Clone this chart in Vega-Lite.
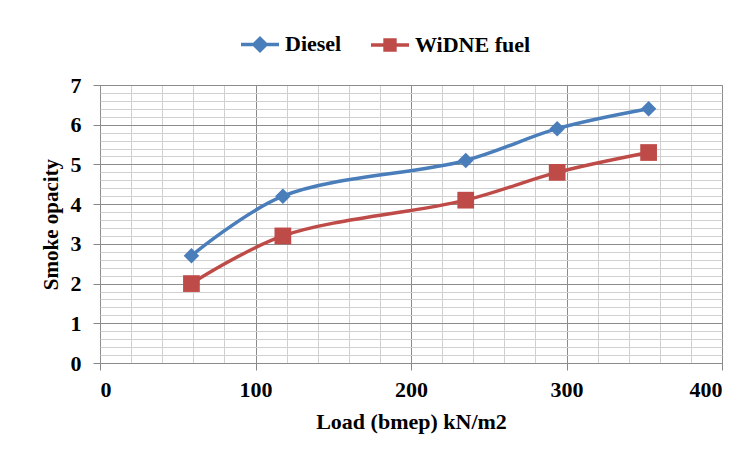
{
  "$schema": "https://vega.github.io/schema/vega-lite/v6.json",
  "width": 622,
  "height": 278,
  "autosize": {"type": "none"},
  "padding": {"left": 100, "top": 85, "right": 28, "bottom": 92},
  "background": "white",
  "config": {
    "view": {"stroke": "#868686", "strokeWidth": 1},
    "font": "Liberation Serif"
  },
  "data": {
    "values": [
      {"load": 58.8, "opacity": 2.7, "fuel": "Diesel"},
      {"load": 117.6, "opacity": 4.2, "fuel": "Diesel"},
      {"load": 235.2, "opacity": 5.1, "fuel": "Diesel"},
      {"load": 294, "opacity": 5.9, "fuel": "Diesel"},
      {"load": 352.8, "opacity": 6.4, "fuel": "Diesel"},
      {"load": 58.8, "opacity": 2.0, "fuel": "WiDNE fuel"},
      {"load": 117.6, "opacity": 3.2, "fuel": "WiDNE fuel"},
      {"load": 235.2, "opacity": 4.1, "fuel": "WiDNE fuel"},
      {"load": 294, "opacity": 4.8, "fuel": "WiDNE fuel"},
      {"load": 352.8, "opacity": 5.3, "fuel": "WiDNE fuel"}
    ]
  },
  "encoding": {
    "x": {
      "field": "load", "type": "quantitative",
      "scale": {"domain": [0, 400], "nice": false},
      "axis": {
        "title": "Load (bmep) kN/m2",
        "values": [0,20,40,60,80,100,120,140,160,180,200,220,240,260,280,300,320,340,360,380,400],
        "labelExpr": "datum.value % 100 === 0 ? datum.label : ''",
        "grid": true,
        "gridColor": {"condition": {"test": "datum.value % 100 === 0", "value": "#8c8c8c"}, "value": "#d0d0d0"},
        "gridWidth": 1,
        "domain": false,
        "tickColor": "#868686",
        "tickSize": 7,
        "tickOpacity": {"condition": {"test": "datum.value % 100 === 0", "value": 1}, "value": 0},
        "labelFont": "Liberation Serif", "labelFontWeight": "bold", "labelFontSize": 22, "labelColor": "black",
        "labelPadding": 9,
        "titleFont": "Liberation Serif", "titleFontWeight": "bold", "titleFontSize": 22, "titleColor": "black",
        "titlePadding": 11
      }
    },
    "y": {
      "field": "opacity", "type": "quantitative",
      "scale": {"domain": [0, 7], "nice": false},
      "axis": {
        "title": "Smoke opacity",
        "values": [0,0.2,0.4,0.6,0.8,1,1.2,1.4,1.6,1.8,2,2.2,2.4,2.6,2.8,3,3.2,3.4,3.6,3.8,4,4.2,4.4,4.6,4.8,5,5.2,5.4,5.6,5.8,6,6.2,6.4,6.6,6.8,7],
        "labelExpr": "abs(datum.value - round(datum.value)) < 0.01 ? format(datum.value, 'd') : ''",
        "grid": true,
        "gridColor": {"condition": {"test": "abs(datum.value - round(datum.value)) < 0.01", "value": "#8c8c8c"}, "value": "#d0d0d0"},
        "gridWidth": 1,
        "domain": false,
        "tickColor": "#868686",
        "tickSize": 7,
        "tickOpacity": {"condition": {"test": "abs(datum.value - round(datum.value)) < 0.01", "value": 1}, "value": 0},
        "labelFont": "Liberation Serif", "labelFontWeight": "bold", "labelFontSize": 22, "labelColor": "black",
        "labelPadding": 12,
        "titleFont": "Liberation Serif", "titleFontWeight": "bold", "titleFontSize": 21, "titleColor": "black",
        "titlePadding": 9
      }
    },
    "color": {
      "field": "fuel", "type": "nominal",
      "scale": {"domain": ["Diesel", "WiDNE fuel"], "range": ["#4A7EBB", "#BE4B48"]},
      "legend": {
        "orient": "none", "legendX": 139, "legendY": -62, "direction": "horizontal",
        "title": null,
        "labelFont": "Liberation Serif", "labelFontWeight": "bold", "labelFontSize": 22, "labelColor": "black",
        "symbolSize": 1444, "symbolStrokeWidth": 3.5, "columnPadding": 22, "labelOffset": 4,
        "symbolType": "M-1,0H1",
        "encode": {
          "symbols": {
            "update": {
              "shape": {"signal": "datum.value === 'Diesel' ? 'M-1,0H1M0,-0.32L0.32,0L0,0.32L-0.32,0Z' : 'M-1,0H1M-0.26,-0.26H0.26V0.26H-0.26Z'"},
              "fill": {"signal": "datum.value === 'Diesel' ? '#4A7EBB' : '#BE4B48'"},
              "stroke": {"signal": "datum.value === 'Diesel' ? '#4A7EBB' : '#BE4B48'"},
              "fillOpacity": {"value": 1},
              "strokeOpacity": {"value": 1},
              "opacity": {"value": 1}
            }
          }
        }
      }
    }
  },
  "layer": [
    {
      "mark": {"type": "line", "interpolate": "catmull-rom", "strokeWidth": 3.5}
    },
    {
      "transform": [{"filter": "datum.fuel === 'Diesel'"}],
      "mark": {"type": "point", "filled": true, "opacity": 1, "shape": "diamond", "size": 240}
    },
    {
      "transform": [{"filter": "datum.fuel === 'WiDNE fuel'"}],
      "mark": {"type": "point", "filled": true, "opacity": 1, "shape": "square", "size": 280}
    }
  ]
}
